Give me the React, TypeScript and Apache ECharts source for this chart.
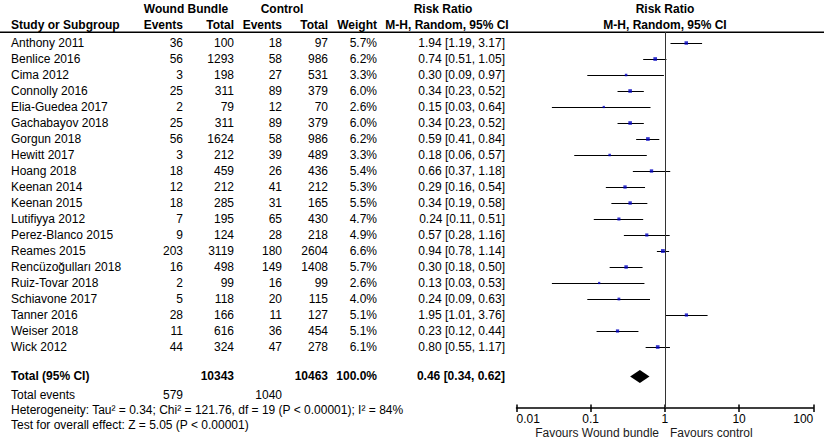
import React, { useEffect, useRef } from "react";
import * as echarts from "echarts";

// ---------- data ----------
const studies = [
  "Anthony 2011", "Benlice 2016", "Cima 2012", "Connolly 2016", "Elia-Guedea 2017",
  "Gachabayov 2018", "Gorgun 2018", "Hewitt 2017", "Hoang 2018", "Keenan 2014",
  "Keenan 2015", "Lutifiyya 2012", "Perez-Blanco 2015", "Reames 2015", "Rencüzoğulları 2018",
  "Ruiz-Tovar 2018", "Schiavone 2017", "Tanner 2016", "Weiser 2018", "Wick 2012",
];
const bundleEvents = [36, 56, 3, 25, 2, 25, 56, 3, 18, 12, 18, 7, 9, 203, 16, 2, 5, 28, 11, 44];
const bundleTotal = [100, 1293, 198, 311, 79, 311, 1624, 212, 459, 212, 285, 195, 124, 3119, 498, 99, 118, 166, 616, 324];
const controlEvents = [18, 58, 27, 89, 12, 89, 58, 39, 26, 41, 31, 65, 28, 180, 149, 16, 20, 11, 36, 47];
const controlTotal = [97, 986, 531, 379, 70, 379, 986, 489, 436, 212, 165, 430, 218, 2604, 1408, 99, 115, 127, 454, 278];
const weights = [5.7, 6.2, 3.3, 6.0, 2.6, 6.0, 6.2, 3.3, 5.4, 5.3, 5.5, 4.7, 4.9, 6.6, 5.7, 2.6, 4.0, 5.1, 5.1, 6.1];
const riskRatio = [1.94, 0.74, 0.30, 0.34, 0.15, 0.34, 0.59, 0.18, 0.66, 0.29, 0.34, 0.24, 0.57, 0.94, 0.30, 0.13, 0.24, 1.95, 0.23, 0.80];
const ciLow = [1.19, 0.51, 0.09, 0.23, 0.03, 0.23, 0.41, 0.06, 0.37, 0.16, 0.19, 0.11, 0.28, 0.78, 0.18, 0.03, 0.09, 1.01, 0.12, 0.55];
const ciHigh = [3.17, 1.05, 0.97, 0.52, 0.64, 0.52, 0.84, 0.57, 1.18, 0.54, 0.58, 0.51, 1.16, 1.14, 0.50, 0.53, 0.63, 3.76, 0.44, 1.17];

const totalLabel = "Total (95% CI)";
const totalBundleN = 10343;
const totalControlN = 10463;
const totalWeight = 100.0;
const totalRR = 0.46;
const totalLow = 0.34;
const totalHigh = 0.62;
const totalEventsLabel = "Total events";
const totalBundleEvents = 579;
const totalControlEvents = 1040;
const heterogeneityText = "Heterogeneity: Tau² = 0.34; Chi² = 121.76, df = 19 (P < 0.00001); I² = 84%";
const overallText = "Test for overall effect: Z = 5.05 (P < 0.00001)";

const tickLabels = ["0.01", "0.1", "1", "10", "100"];
const axisMin = 0.01;
const axisMax = 100;
const favoursLeft = "Favours Wound bundle";
const favoursRight = "Favours control";

// ---------- layout ----------
const FONT = "Liberation Sans, Arial, sans-serif";
const COL = { study: 11, bEv: 183, bTot: 234, cEv: 282, cTot: 328, weight: 377, rr: 505 };
const ROW_TOTAL = 20.84;
const ROW_EVENTS = 21.98;
const ROW_HET = 22.96;
const ROW_TEST = 23.9;

type Cell = { text: string; x: number; align: string; bold?: boolean };
type TRow = { pos: number; cells: Cell[] };

const fmtRR = (r: number, l: number, h: number) => `${r.toFixed(2)} [${l.toFixed(2)}, ${h.toFixed(2)}]`;

const tableRows: TRow[] = [
  ...studies.map((s, i) => ({
    pos: i,
    cells: [
      { text: s, x: COL.study, align: "left" },
      { text: String(bundleEvents[i]), x: COL.bEv, align: "right" },
      { text: String(bundleTotal[i]), x: COL.bTot, align: "right" },
      { text: String(controlEvents[i]), x: COL.cEv, align: "right" },
      { text: String(controlTotal[i]), x: COL.cTot, align: "right" },
      { text: weights[i].toFixed(1) + "%", x: COL.weight, align: "right" },
      { text: fmtRR(riskRatio[i], ciLow[i], ciHigh[i]), x: COL.rr, align: "right" },
    ],
  })),
  {
    pos: ROW_TOTAL,
    cells: [
      { text: totalLabel, x: COL.study, align: "left", bold: true },
      { text: String(totalBundleN), x: COL.bTot, align: "right", bold: true },
      { text: String(totalControlN), x: COL.cTot, align: "right", bold: true },
      { text: totalWeight.toFixed(1) + "%", x: COL.weight, align: "right", bold: true },
      { text: fmtRR(totalRR, totalLow, totalHigh), x: COL.rr, align: "right", bold: true },
    ],
  },
  {
    pos: ROW_EVENTS,
    cells: [
      { text: totalEventsLabel, x: COL.study, align: "left" },
      { text: String(totalBundleEvents), x: COL.bEv, align: "right" },
      { text: String(totalControlEvents), x: COL.cEv, align: "right" },
    ],
  },
  { pos: ROW_HET, cells: [{ text: heterogeneityText, x: COL.study, align: "left" }] },
  { pos: ROW_TEST, cells: [{ text: overallText, x: COL.study, align: "left" }] },
];

const headerText = (text: string, x: number, y: number, align: string) => ({
  type: "text",
  x,
  y,
  silent: true,
  style: { text, align, verticalAlign: "middle", fontFamily: FONT, fontSize: 12, fontWeight: "bold", fill: "#000" },
});

export default function App() {
  const ref = useRef<HTMLDivElement>(null);

  useEffect(() => {
    if (!ref.current) return;
    const chart = echarts.init(ref.current, undefined, { renderer: "svg" });

    const gridTop = 32;
    const gridBottom = 40;
    const yMin = -0.6875;
    const yMax = 22.8125;

    const option: any = {
      animation: false,
      backgroundColor: "#fff",
      grid: { left: 516.5, right: 10.7, top: gridTop, bottom: gridBottom, containLabel: false },
      xAxis: [
        {
          type: "log",
          logBase: 10,
          min: axisMin,
          max: axisMax,
          position: "bottom",
          axisLine: { show: true, onZero: false, lineStyle: { color: "#000", width: 1.5 } },
          axisTick: { show: true, inside: false, length: 4, lineStyle: { color: "#000", width: 1.5 } },
          minorTick: { show: false },
          splitLine: { show: false },
          axisLabel: {
            show: true,
            margin: 5,
            fontSize: 12,
            fontFamily: FONT,
            color: "#000",
            alignMinLabel: "left",
            alignMaxLabel: "right",
            formatter: (v: number) => {
              const i = Math.round(Math.log10(v)) + 2;
              return tickLabels[i] ?? "";
            },
          },
        },
        {
          type: "log",
          logBase: 10,
          min: axisMin,
          max: axisMax,
          position: "bottom",
          axisLine: { show: false, onZero: false },
          axisTick: { show: true, inside: true, length: 3.5, lineStyle: { color: "#000", width: 1.5 } },
          axisLabel: { show: false },
          splitLine: { show: false },
        },
      ],
      yAxis: { type: "value", min: yMin, max: yMax, inverse: true, show: false },
      graphic: [
        {
          type: "line",
          silent: true,
          shape: { x1: 0, y1: 32.3, x2: 824, y2: 32.3 },
          style: { stroke: "#000", lineWidth: 1.5 },
        },
        headerText("Wound Bundle", 186, 9, "center"),
        headerText("Control", 282, 9, "center"),
        headerText("Risk Ratio", 443, 9, "center"),
        headerText("Risk Ratio", 665, 9, "center"),
        headerText("Study or Subgroup", 11, 25, "left"),
        headerText("Events", COL.bEv, 25, "right"),
        headerText("Total", COL.bTot, 25, "right"),
        headerText("Events", COL.cEv, 25, "right"),
        headerText("Total", COL.cTot, 25, "right"),
        headerText("Weight", COL.weight, 25, "right"),
        headerText("M-H, Random, 95% CI", 447, 25, "center"),
        headerText("M-H, Random, 95% CI", 665, 25, "center"),
        {
          type: "text",
          x: 659,
          y: 433,
          silent: true,
          style: { text: favoursLeft, align: "right", verticalAlign: "middle", fontFamily: FONT, fontSize: 12, fill: "#1a1a1a" },
        },
        {
          type: "text",
          x: 670,
          y: 433,
          silent: true,
          style: { text: favoursRight, align: "left", verticalAlign: "middle", fontFamily: FONT, fontSize: 12, fill: "#1a1a1a" },
        },
      ],
      series: [
        {
          type: "custom",
          name: "ci",
          silent: true,
          clip: false,
          encode: { x: [0, 1], y: 2 },
          data: studies.map((_, i) => [ciLow[i], ciHigh[i], i]),
          renderItem: (_p: any, api: any) => {
            const a = api.coord([api.value(0), api.value(2)]);
            const b = api.coord([api.value(1), api.value(2)]);
            return {
              type: "line",
              shape: { x1: a[0], y1: Math.round(a[1]) + 0.5, x2: b[0], y2: Math.round(b[1]) + 0.5 },
              style: { stroke: "#000", lineWidth: 1 },
            };
          },
          z: 2,
        },
        {
          type: "scatter",
          name: "rr",
          silent: true,
          symbol: "rect",
          symbolSize: (v: number[]) => 1.2 + 0.4 * v[2],
          itemStyle: { color: "#0000c0" },
          data: studies.map((_, i) => [riskRatio[i], i, weights[i]]),
          z: 3,
          markLine: {
            silent: true,
            symbol: "none",
            label: { show: false },
            lineStyle: { color: "#333", width: 1, type: "solid" },
            data: [{ xAxis: 1 }],
          },
        },
        {
          type: "custom",
          name: "pooled",
          silent: true,
          clip: false,
          encode: { x: [0, 1, 2], y: 3 },
          data: [[totalLow, totalRR, totalHigh, ROW_TOTAL]],
          renderItem: (_p: any, api: any) => {
            const l = api.coord([api.value(0), api.value(3)]);
            const c = api.coord([api.value(1), api.value(3)]);
            const r = api.coord([api.value(2), api.value(3)]);
            return {
              type: "polygon",
              shape: { points: [[l[0], l[1]], [c[0], c[1] - 6.5], [r[0], r[1]], [c[0], c[1] + 6.5]] },
              style: { fill: "#000" },
            };
          },
          z: 3,
        },
        {
          type: "custom",
          name: "table",
          silent: true,
          clip: false,
          encode: { x: 0, y: 1 },
          data: tableRows.map((r) => [1, r.pos]),
          renderItem: (p: any, api: any) => {
            const row = tableRows[p.dataIndex];
            const y = api.coord([1, api.value(1)])[1];
            return {
              type: "group",
              children: row.cells.map((c) => ({
                type: "text",
                x: c.x,
                y,
                style: {
                  text: c.text,
                  align: c.align,
                  verticalAlign: "middle",
                  fontFamily: FONT,
                  fontSize: 12,
                  fontWeight: c.bold ? "bold" : "normal",
                  fill: "#000",
                },
              })),
            };
          },
          z: 4,
        },
      ],
    };

    chart.setOption(option);
    return () => chart.dispose();
  }, []);

  return (
    <div
      ref={ref}
      style={{ position: "fixed", left: 0, top: 0, width: 824, height: 448, background: "#fff" }}
    />
  );
}
